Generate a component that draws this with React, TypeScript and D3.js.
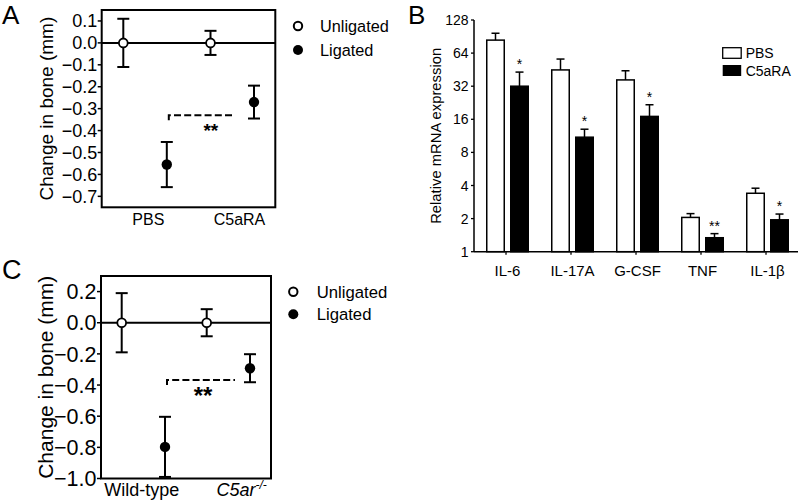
import React from "react";
import * as d3 from "d3";

// ---------- Panel A data ----------
const groupsA = ["PBS", "C5aRA"];
const unligA = [0, 0];
const unligErrA = [0.11, 0.055];
const ligA = [-0.555, -0.27];
const ligErrA = [0.103, 0.075];
const ticksA = [0.1, 0, -0.1, -0.2, -0.3, -0.4, -0.5, -0.6, -0.7];
const sigA = { value: -0.33, label: "**" };

// ---------- Panel C data ----------
const groupsC = ["Wild-type", "C5ar"];
const unligC = [0, 0];
const unligErrC = [0.19, 0.087];
const ligC = [-0.797, -0.292];
const ligErrC = [0.193, 0.09];
const ticksC = [0.2, 0, -0.2, -0.4, -0.6, -0.8, -1.0];
const sigC = { value: -0.368, label: "**" };

// ---------- Panel B data ----------
const genesB = ["IL-6", "IL-17A", "G-CSF", "TNF", "IL-1β"];
const pbsB = [84, 45, 36.5, 2.05, 3.4];
const pbsErrB = [13, 11.5, 7.7, 0.17, 0.38];
const c5aB = [32, 11, 17, 1.34, 1.95];
const c5aErrB = [11, 2, 4.7, 0.12, 0.25];
const starsB = ["*", "*", "*", "**", "*"];
const ticksB = [1, 2, 4, 8, 16, 32, 64, 128];
const seriesB = ["PBS", "C5aRA"];
const legendDot = ["Unligated", "Ligated"];

const FONT = "'Liberation Sans', Arial, Helvetica, sans-serif";

type DotProps = {
  letter: string; letterY: number; letterSize: number;
  box: { x0: number; x1: number; y0: number; y1: number };
  domain: [number, number];
  ticks: number[]; tickFmt: (v: number) => string; tickFont: number;
  title: string; titleFont: number; titleX: number;
  groups: string[]; unlig: number[]; unligErr: number[]; lig: number[]; ligErr: number[];
  xRange: [number, number]; ligOffset: number;
  labels: React.ReactNode[]; labelDx: number[]; labelY: number; labelFont: number;
  sig: { value: number; label: string }; sigX1: number; starX: number; starY: number; starSize: number;
  legend: { x: number; y0: number; y1: number; textX: number; font: number };
};

function DotPanel(p: DotProps) {
  const y = d3.scaleLinear().domain(p.domain).range([p.box.y0, p.box.y1]);
  const x = d3.scalePoint<string>().domain(p.groups).range(p.xRange);
  const capW = 6;
  const r = 4.4;
  const errBar = (cx: number, v: number, e: number, key: string) => (
    <g key={key} stroke="#000" strokeWidth={2} fill="none">
      <line x1={cx} x2={cx} y1={y(v + e)} y2={y(v - e)} />
      <line x1={cx - capW} x2={cx + capW} y1={y(v + e)} y2={y(v + e)} />
      <line x1={cx - capW} x2={cx + capW} y1={y(v - e)} y2={y(v - e)} />
    </g>
  );
  const x0Lig = (x(p.groups[0]) as number) + p.ligOffset;
  const ySig = y(p.sig.value);
  const tcy = (p.box.y0 + p.box.y1) / 2;
  return (
    <g fontFamily={FONT}>
      <text x={2} y={p.letterY} fontSize={p.letterSize}>{p.letter}</text>
      <text transform={`translate(${p.titleX},${tcy}) rotate(-90)`} textAnchor="middle" fontSize={p.titleFont}>{p.title}</text>
      {/* box */}
      <rect x={p.box.x0} y={p.box.y0} width={p.box.x1 - p.box.x0} height={p.box.y1 - p.box.y0} fill="none" stroke="#000" strokeWidth={2} />
      {/* ticks */}
      {p.ticks.map((t) => (
        <g key={t}>
          <line x1={p.box.x0 - 4} x2={p.box.x0} y1={y(t)} y2={y(t)} stroke="#000" strokeWidth={1.5} />
          <text x={p.box.x0 - 4.5} y={y(t)} dy="0.36em" textAnchor="end" fontSize={p.tickFont}>{p.tickFmt(t)}</text>
        </g>
      ))}
      {/* zero line */}
      <line x1={p.box.x0} x2={p.box.x1} y1={y(0)} y2={y(0)} stroke="#000" strokeWidth={2} />
      {/* significance bracket */}
      <path d={`M${x0Lig + 2},${ySig + 5}V${ySig}H${p.sigX1}`} fill="none" stroke="#000" strokeWidth={2} strokeDasharray="7,3.2" />
      <text x={p.starX} y={p.starY} textAnchor="middle" fontSize={p.starSize} fontWeight="bold">{p.sig.label}</text>
      {/* points */}
      {p.groups.map((g, i) => {
        const cu = x(g) as number;
        const cl = cu + p.ligOffset;
        return (
          <g key={g}>
            {errBar(cu, p.unlig[i], p.unligErr[i], "u")}
            {errBar(cl, p.lig[i], p.ligErr[i], "l")}
            <circle cx={cu} cy={y(p.unlig[i])} r={r} fill="#fff" stroke="#000" strokeWidth={1.8} />
            <circle cx={cl} cy={y(p.lig[i])} r={r + 0.8} fill="#000" />
            <text x={cu + p.labelDx[i]} y={p.labelY} textAnchor="middle" fontSize={p.labelFont}>{p.labels[i]}</text>
          </g>
        );
      })}
      {/* legend */}
      <circle cx={p.legend.x} cy={p.legend.y0} r={4.2} fill="#fff" stroke="#000" strokeWidth={2} />
      <circle cx={p.legend.x} cy={p.legend.y1} r={5} fill="#000" />
      <text x={p.legend.textX} y={p.legend.y0} dy="0.36em" fontSize={p.legend.font}>{legendDot[0]}</text>
      <text x={p.legend.textX} y={p.legend.y1} dy="0.36em" fontSize={p.legend.font}>{legendDot[1]}</text>
    </g>
  );
}

function BarPanel() {
  const x0 = 474, x1 = 798, yTop = 20, yBot = 251.7;
  const y = d3.scaleLog().base(2).domain([1, 128]).range([yBot, yTop]);
  const xb = d3.scaleBand<string>().domain(genesB).range([475, 800]).padding(0);
  const barW = 17.5;
  const gap = 6.5;
  const capW = 4;
  const errB = (cx: number, v: number, e: number) => (
    <g stroke="#000" strokeWidth={1.5}>
      <line x1={cx} x2={cx} y1={y(v + e)} y2={y(v - e)} />
      <line x1={cx - capW} x2={cx + capW} y1={y(v + e)} y2={y(v + e)} />
      <line x1={cx - capW} x2={cx + capW} y1={y(v - e)} y2={y(v - e)} />
    </g>
  );
  return (
    <g fontFamily={FONT}>
      <text x={408} y={24} fontSize={26}>B</text>
      <text transform={`translate(441,${(yTop + yBot) / 2}) rotate(-90)`} textAnchor="middle" fontSize={14.8}>Relative mRNA expression</text>
      {ticksB.map((t) => (
        <g key={t}>
          <line x1={x0 - 3} x2={x0} y1={y(t)} y2={y(t)} stroke="#000" strokeWidth={1.3} />
          <text x={468.5} y={y(t)} dy="0.36em" textAnchor="end" fontSize={14}>{t}</text>
        </g>
      ))}
      {genesB.map((g, i) => {
        const c = (xb(g) as number) + xb.bandwidth() / 2;
        const pc = c - gap / 2 - barW / 2;
        const cc = c + gap / 2 + barW / 2;
        return (
          <g key={g}>
            {errB(pc, pbsB[i], pbsErrB[i])}
            <rect x={pc - barW / 2} y={y(pbsB[i])} width={barW} height={yBot - y(pbsB[i])} fill="#fff" stroke="#000" strokeWidth={1.5} />
            {errB(cc, c5aB[i], c5aErrB[i])}
            <rect x={cc - barW / 2} y={y(c5aB[i])} width={barW} height={yBot - y(c5aB[i])} fill="#000" stroke="#000" strokeWidth={1.5} />
            <text x={cc} y={y(c5aB[i] + c5aErrB[i]) - 3} textAnchor="middle" fontSize={14}>{starsB[i]}</text>
            <line x1={c - 1.5} x2={c - 1.5} y1={yBot} y2={yBot + 3} stroke="#000" strokeWidth={1.3} />
            <text x={c} y={276} textAnchor="middle" fontSize={15}>{g}</text>
          </g>
        );
      })}
      <line x1={x0} x2={x0} y1={yTop} y2={yBot} stroke="#000" strokeWidth={1.5} />
      <line x1={x0} x2={x1} y1={yBot} y2={yBot} stroke="#000" strokeWidth={1.5} />
      {/* legend */}
      <rect x={722.7} y={47.7} width={18.5} height={10.6} fill="#fff" stroke="#000" strokeWidth={1.3} />
      <rect x={722.7} y={65} width={18.5} height={11} fill="#000" />
      <text x={745.7} y={53} dy="0.36em" fontSize={14}>{seriesB[0]}</text>
      <text x={745.7} y={70.5} dy="0.36em" fontSize={14}>{seriesB[1]}</text>
    </g>
  );
}

export default function App() {
  const fmt = (v: number) => (Math.abs(v) < 1e-9 ? "0.0" : d3.format(".1f")(v));
  return (
    <svg width={800} height={503} style={{ position: "absolute", left: 0, top: 0, background: "#fff" }}>
      <rect width={800} height={503} fill="#fff" />
      <DotPanel
        letter="A" letterY={24} letterSize={26}
        box={{ x0: 101.7, x1: 275.3, y0: 10, y1: 207.3 }}
        domain={[0.15, -0.75]}
        ticks={ticksA} tickFmt={fmt} tickFont={18}
        title="Change in bone (mm)" titleFont={19} titleX={53}
        groups={groupsA} unlig={unligA} unligErr={unligErrA} lig={ligA} ligErr={ligErrA}
        xRange={[123.3, 210.5]} ligOffset={43.5}
        labels={[groupsA[0], groupsA[1]]} labelDx={[25, 29]} labelY={225} labelFont={16}
        sig={sigA} sigX1={235} starX={210.8} starY={137} starSize={19}
        legend={{ x: 298, y0: 26, y1: 50, textX: 320, font: 16.3 }}
      />
      <DotPanel
        letter="C" letterY={279} letterSize={27}
        box={{ x0: 101, x1: 271, y0: 276, y1: 478.5 }}
        domain={[0.3, -1.0]}
        ticks={ticksC} tickFmt={fmt} tickFont={21.5}
        title="Change in bone (mm)" titleFont={21} titleX={53}
        groups={groupsC} unlig={unligC} unligErr={unligErrC} lig={ligC} ligErr={ligErrC}
        xRange={[121.7, 206.7]} ligOffset={43.3}
        labels={[
          groupsC[0],
          <tspan key="c5"><tspan fontStyle="italic">{groupsC[1]}</tspan><tspan fontSize={12} dy={-7} fontStyle="italic">-/-</tspan></tspan>,
        ]}
        labelDx={[20, 35]} labelY={496} labelFont={18}
        sig={sigC} sigX1={235} starX={203} starY={404} starSize={24}
        legend={{ x: 293.3, y0: 291.7, y1: 314.3, textX: 316.7, font: 16.7 }}
      />
      <BarPanel />
    </svg>
  );
}
